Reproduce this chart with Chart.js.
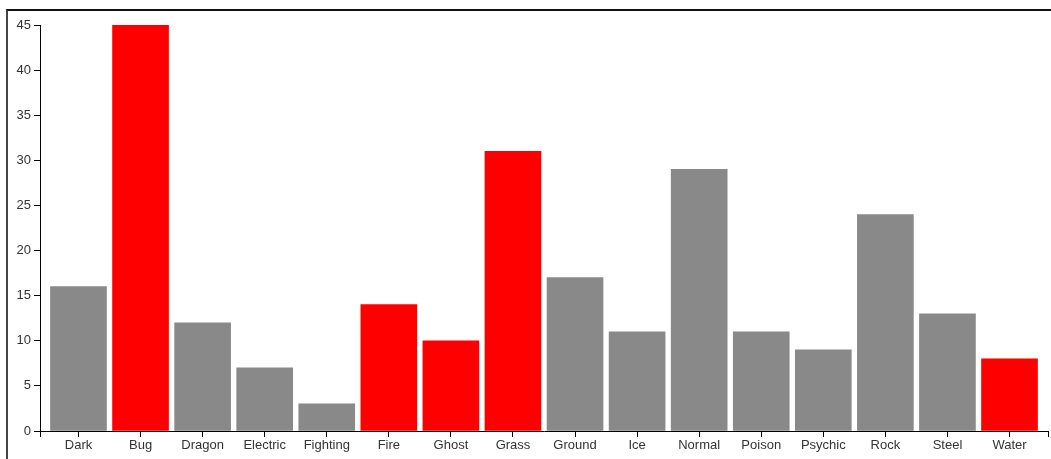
<!DOCTYPE html>
<html lang="en">
<head>
  <meta charset="UTF-8">
  <title>Pokemon types</title>
  <script src="https://cdn.jsdelivr.net/npm/chart.js@4.4.5/dist/chart.umd.min.js"></script>
  <style>
    html, body { margin: 0; padding: 0; background: #fff; }
    body { width: 1051px; height: 459px; overflow: hidden; position: relative; }
    .frame {
      position: absolute; left: 6px; top: 9px; width: 1060px; height: 470px;
      border-top: 2px solid #111; border-left: 2px solid #444;
    }
    .chart-box { position: absolute; left: 0; top: 0; width: 1051px; height: 459px; }
  </style>
</head>
<body>
  <div class="frame"></div>
  <div class="chart-box"><canvas id="typeChart" width="1051" height="459"></canvas></div>

  <script>
    // categories and counts
    const types = ['Dark', 'Bug', 'Dragon', 'Electric', 'Fighting', 'Fire', 'Ghost', 'Grass',
                   'Ground', 'Ice', 'Normal', 'Poison', 'Psychic', 'Rock', 'Steel', 'Water'];
    const counts = [16, 45, 12, 7, 3, 14, 10, 31, 17, 11, 29, 11, 9, 24, 13, 8];
    const highlighted = ['Bug', 'Fire', 'Ghost', 'Grass', 'Water'];
    const yTicks = [0, 5, 10, 15, 20, 25, 30, 35, 40, 45];

    const edge = 0.62; // outer padding of the band scale, in bands

    const ctx = document.getElementById('typeChart').getContext('2d');
    new Chart(ctx, {
      type: 'bar',
      data: {
        datasets: [{
          data: types.map((t, i) => ({ x: i, y: counts[i] })),
          backgroundColor: types.map(t => highlighted.includes(t) ? '#ff0000' : '#898989'),
          barThickness: 56,
          borderWidth: 0
        }]
      },
      options: {
        responsive: false,
        animation: false,
        devicePixelRatio: 1,
        layout: { padding: { top: 25, right: 3, left: 0, bottom: 0 } },
        plugins: { legend: { display: false }, tooltip: { enabled: false } },
        scales: {
          x: {
            type: 'linear',
            offset: false,
            min: -edge,
            max: types.length - 1 + edge,
            afterBuildTicks: s => {
              const keep = [{ value: -edge }];
              types.forEach((t, i) => keep.push({ value: i }));
              keep.push({ value: types.length - 1 + edge });
              s.ticks = keep;
            },
            afterFit: s => { s.height = 28; },
            ticks: {
              autoSkip: false,
              maxRotation: 0,
              padding: 1,
              color: '#333',
              font: { family: 'Liberation Sans, Arial', size: 13 },
              callback: v => Number.isInteger(v) ? types[v] : ''
            },
            grid: { offset: false, drawOnChartArea: false, tickLength: 6, color: '#000', tickColor: '#000' },
            border: { display: true, color: '#000', width: 1 }
          },
          y: {
            min: 0,
            max: 45,
            afterBuildTicks: s => { s.ticks = yTicks.map(v => ({ value: v })); },
            afterFit: s => { s.width = 40; },
            ticks: {
              padding: 3,
              color: '#333',
              font: { family: 'Liberation Sans, Arial', size: 13 }
            },
            grid: { drawOnChartArea: false, tickLength: 6, color: '#000', tickColor: '#000' },
            border: { display: true, color: '#000', width: 1 }
          }
        }
      }
    });
  </script>
</body>
</html>
